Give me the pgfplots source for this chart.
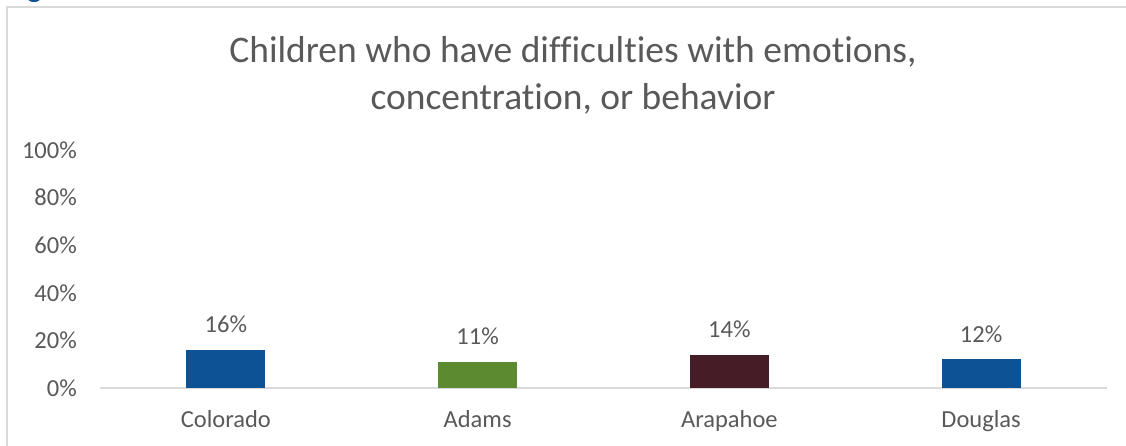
\documentclass[border=0pt]{standalone}
\usepackage{pgfplots}
\pgfplotsset{compat=1.18}
\usepackage{fontspec}
\setmainfont{Carlito}[Ligatures={NoCommon}]

\definecolor{txtgray}{HTML}{595959}
\definecolor{framegray}{HTML}{D9D9D9}
\definecolor{coblue}{HTML}{0C5294}
\definecolor{adgreen}{HTML}{5B8A31}
\definecolor{armaroon}{HTML}{461C26}

\begin{document}
\begin{tikzpicture}
  % the page is exactly the chart area
  \useasboundingbox (0pt,0pt) rectangle (1126pt,446pt);
  \clip (0pt,0pt) rectangle (1126pt,446pt);
  % chart area frame
  \draw[framegray, line width=1.5pt] (7pt,-20pt) -- (7pt,439pt) -- (1150pt,439pt);
  % figure caption above the chart
  \node[anchor=base west, text=coblue, inner sep=0pt,
        font=\bfseries\fontsize{30}{36}\selectfont] at (6pt,448pt) {Figure};
  % chart title
  \node[anchor=base, text=txtgray, inner sep=0pt,
        font=\fontsize{37.5}{45}\selectfont] at (573pt,383pt)
        {Children who have difficulties with emotions,};
  \node[anchor=base, text=txtgray, inner sep=0pt,
        font=\fontsize{37.5}{45}\selectfont] at (573pt,336pt)
        {concentration, or behavior};
  \begin{axis}[
    at={(100pt,58pt)}, anchor=south west,
    scale only axis, width=1007pt, height=238pt,
    xmin=-0.5, xmax=3.5, ymin=0, ymax=100,
    axis x line*=bottom, axis y line*=left,
    x axis line style={draw=framegray, line width=1.5pt},
    y axis line style={draw=none},
    major tick length=0pt,
    /pgf/number format/assume math mode=true,
    xtick={0,1,2,3},
    xticklabels={Colorado,Adams,Arapahoe,Douglas},
    ytick={0,20,40,60,80,100},
    yticklabel={\pgfmathprintnumber{\tick}\%},
    tick label style={text=txtgray, font=\fontsize{24.5}{30}\selectfont},
    yticklabel style={anchor=east, inner sep=0pt, xshift=-23pt},
    xticklabel style={anchor=base, inner sep=0pt, yshift=-40pt},
    ybar, bar width=79pt, bar shift=0pt,
    nodes near coords={\pgfmathprintnumber{\pgfplotspointmeta}\%},
    nodes near coords style={anchor=base, inner sep=0pt, yshift=17pt,
      text=txtgray, font=\fontsize{24.5}{30}\selectfont},
  ]
    \addplot[fill=coblue, draw=none] coordinates {(0,16)};
    \addplot[fill=adgreen, draw=none] coordinates {(1,11)};
    \addplot[fill=armaroon, draw=none] coordinates {(2,14)};
    \addplot[fill=coblue, draw=none] coordinates {(3,12)};
  \end{axis}
\end{tikzpicture}
\end{document}
